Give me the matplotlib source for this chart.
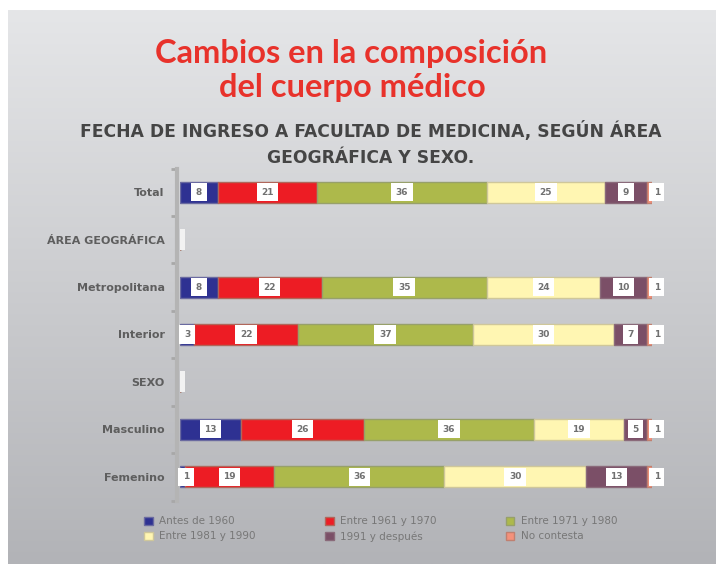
import numpy as np
import matplotlib
matplotlib.use("Agg")
import matplotlib.pyplot as plt
from matplotlib.patches import Rectangle
from matplotlib.colors import LinearSegmentedColormap

categories = ["Total", "ÁREA GEOGRÁFICA", "Metropolitana", "Interior", "SEXO", "Masculino", "Femenino"]
is_header = [False, True, False, False, True, False, False]
series_names = ["Antes de 1960", "Entre 1961 y 1970", "Entre 1971 y 1980",
                "Entre 1981 y 1990", "1991 y después", "No contesta"]
antes_1960 = [8, 0, 8, 3, 0, 13, 1]
entre_61_70 = [21, 0, 22, 22, 0, 26, 19]
entre_71_80 = [36, 0, 35, 37, 0, 36, 36]
entre_81_90 = [25, 0, 24, 30, 0, 19, 30]
desde_1991 = [9, 0, 10, 7, 0, 5, 13]
no_contesta = [1, 0, 1, 1, 0, 1, 1]
series = [antes_1960, entre_61_70, entre_71_80, entre_81_90, desde_1991, no_contesta]
colors = ["#2e3192", "#ed1c24", "#adb94b", "#fff6b2", "#7b4f67", "#f4917b"]
edges = ["#6a6aa0", "#b0665a", "#97a06a", "#cfc79a", "#8a6a7a", "#c08070"]

W, H = 723, 571
fig = plt.figure(figsize=(W / 100, H / 100), dpi=100)
fig.patch.set_facecolor("white")

# background gradient panel
bg = fig.add_axes([8 / W, 1 - 564 / H, (716 - 8) / W, (564 - 10) / H])
grad = np.linspace(0, 1, 256).reshape(-1, 1)
cmap = LinearSegmentedColormap.from_list("g", ["#e5e6e8", "#b2b3b7"])
bg.imshow(grad, aspect="auto", cmap=cmap, extent=[0, 1, 0, 1], origin="upper")
bg.axis("off")

fig.text(351 / W, 1 - 53 / H, "Cambios en la composición", ha="center", va="center",
         color="#e8322b", fontsize=23.5, fontweight="bold", family="Lato")
fig.text(352 / W, 1 - 88 / H, "del cuerpo médico", ha="center", va="center",
         color="#e8322b", fontsize=23.5, fontweight="bold", family="Lato")
fig.text(371 / W, 1 - 131 / H, "FECHA DE INGRESO A FACULTAD DE MEDICINA, SEGÚN ÁREA", ha="center",
         va="center", color="#454545", fontsize=12.3, fontweight="bold", family="DejaVu Sans")
fig.text(371 / W, 1 - 158 / H, "GEOGRÁFICA Y SEXO.", ha="center",
         va="center", color="#454545", fontsize=12.3, fontweight="bold", family="DejaVu Sans")

x0, x100 = 180, 652
top, bot = 168.5, 500.5
ax = fig.add_axes([x0 / W, 1 - bot / H, (x100 - x0) / W, (bot - top) / H])
ax.set_facecolor("none")
ax.set_xlim(0, 100)
ax.set_ylim(len(categories) - 0.5, -0.5)
y = np.arange(len(categories))
bh = 0.44

left = np.zeros(len(categories))
for k, (vals, c, ec, name) in enumerate(zip(series, colors, edges, series_names)):
    vals = np.array(vals, dtype=float)
    ax.barh(y, vals, left=left, height=bh, color=c, edgecolor=ec, linewidth=1.0, label=name, zorder=2)
    for i, v in enumerate(vals):
        if is_header[i]:
            continue
        if k == len(series) - 1:
            xc = left[i] + v + 1.0
        else:
            xc = left[i] + v / 2
            if v < 2:
                xc = left[i] + 1.3
        ax.text(xc, y[i], f"{int(v)}", ha="center", va="center", fontsize=6.5, color="#707070",
                fontweight="bold", zorder=4, clip_on=False,
                bbox=dict(boxstyle="square,pad=0.5", fc="white", ec="none"))
    left = left + vals

# small white markers for header rows
for i in range(len(categories)):
    if is_header[i]:
        ax.add_patch(Rectangle((0, y[i] - bh / 2), 1.0, bh, fc="#f2f2f2", ec="none", zorder=3))

ax.set_yticks(y)
ax.set_yticklabels(categories)
ax.set_yticks(np.arange(-0.5, len(categories), 1.0), minor=True)
ax.tick_params(axis="y", which="major", length=0, pad=9, labelsize=8, labelcolor="#5e5e5e")
ax.tick_params(axis="y", which="minor", length=4, width=2, color="#a8a8a8", direction="out")
ax.set_xticks([])
for s in ["top", "right", "bottom"]:
    ax.spines[s].set_visible(False)
ax.spines["left"].set_color("#b4b4b4")
ax.spines["left"].set_linewidth(3)
ax.spines["left"].set_position(("outward", 2))

handles, labels = ax.get_legend_handles_labels()
order = [0, 3, 1, 4, 2, 5]
leg = fig.legend([handles[i] for i in order], [labels[i] for i in order], ncol=3, loc="center left",
                 bbox_to_anchor=(135 / W, 1 - 529 / H),
                 frameon=False, fontsize=7.5, handlelength=0.8, handleheight=0.8,
                 columnspacing=6.7, handletextpad=0.6, labelspacing=0.5)
for t in leg.get_texts():
    t.set_color("#777777")

fig.canvas.draw()
for t in ax.get_yticklabels():
    t.set_fontweight("bold")

fig.savefig("out.png", dpi=100)
